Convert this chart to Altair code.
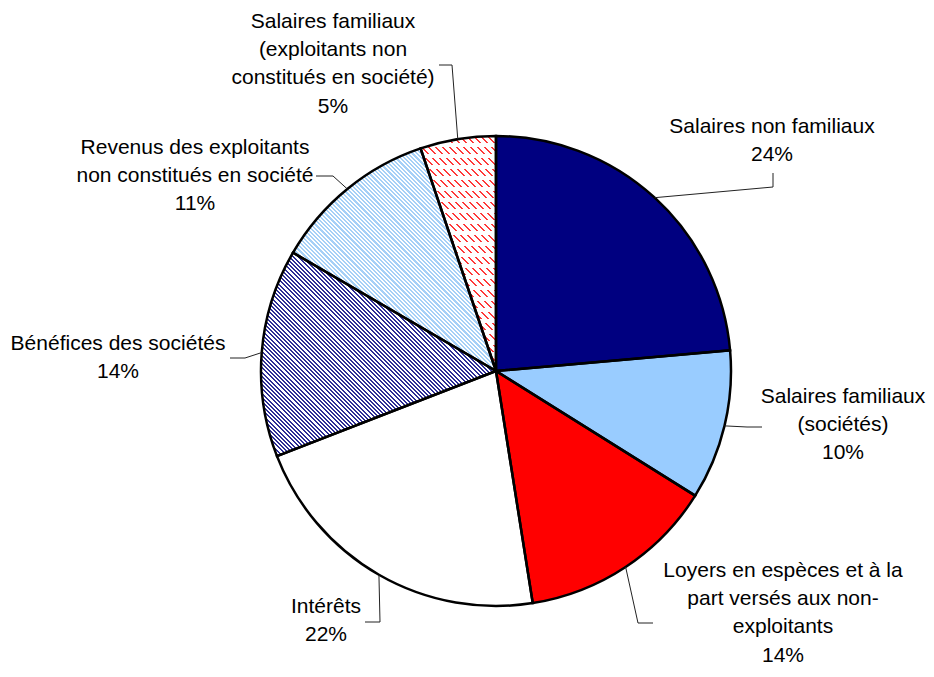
import math
import altair as alt
import pandas as pd

# ---------------- data ----------------
categories = [
    "Salaires non familiaux",
    "Salaires familiaux (sociétés)",
    "Loyers en espèces et à la part versés aux non-exploitants",
    "Intérêts",
    "Bénéfices des sociétés",
    "Revenus des exploitants non constitués en société",
    "Salaires familiaux (exploitants non constitués en société)",
]
values = [23.6, 10.3, 13.6, 21.6, 14.3, 11.4, 5.2]
label_lines = [
    ["Salaires non familiaux"],
    ["Salaires familiaux", "(sociétés)"],
    ["Loyers en espèces et à la", "part versés aux non-", "exploitants"],
    ["Intérêts"],
    ["Bénéfices des sociétés"],
    ["Revenus des exploitants", "non constitués en société"],
    ["Salaires familiaux", "(exploitants non", "constitués en société)"],
]

# ---------------- layout ----------------
W, H = 918, 661
CX, CY, R = 488, 363, 235
# centre of the first text line of each label (plot coordinates)
label_pos = [(764, 119), (835, 389), (775, 563), (318, 599), (110, 336), (187, 140), (325, 14)]
leader_tail = [
    [(765, 179), (765, 165)],
    [(739, 419), (754, 419)],
    [(630, 615), (645, 615)],
    [(372, 614), (357, 614)],
    [(237, 350), (222, 350)],
    [(325, 168), (308, 168)],
    [(444, 57), (431, 57)],
]
FONT = "Liberation Sans"

# ---------------- derived ----------------
total = sum(values)
starts, ends = [], []
acc = 0.0
for v in values:
    starts.append(acc)
    acc += v
    ends.append(acc)

arc_df = pd.DataFrame({"idx": list(range(len(values))), "cat": categories,
                       "value": values, "start": starts, "end": ends})


def ang(p):
    return p / total * 2 * math.pi


def slice_bbox(a0, a1):
    pts = [(0.0, 0.0), (R * math.sin(a0), -R * math.cos(a0)), (R * math.sin(a1), -R * math.cos(a1))]
    for k in range(0, 5):
        a = k * math.pi / 2
        if a0 < a < a1:
            pts.append((R * math.sin(a), -R * math.cos(a)))
    xs = [p[0] for p in pts]
    ys = [p[1] for p in pts]
    return max(xs) - min(xs), max(ys) - min(ys)


def _stops(n, c1, c2, duty):
    stops = []
    i = 0
    while i < n:
        t0 = i / n
        t1 = min((i + duty) / n, 1.0)
        t2 = min((i + 1) / n, 1.0)
        stops += [alt.GradientStop(offset=t0, color=c1), alt.GradientStop(offset=t1, color=c1),
                  alt.GradientStop(offset=t1, color=c2), alt.GradientStop(offset=t2, color=c2)]
        i += 1
    return stops


def stripes(w, h, period, c1, c2, duty):
    n = (w + h) / period
    s = (w + h) / (w * w + h * h)
    return alt.LinearGradient(gradient="linear", stops=_stops(n, c1, c2, duty),
                              x1=0, y1=1, x2=s * w, y2=1 - s * h)


def bands(h, period, c1, c2, duty):
    return alt.LinearGradient(gradient="linear", stops=_stops(h / period, c1, c2, duty),
                              x1=0, y1=0, x2=0, y2=1)


bb = [slice_bbox(ang(a), ang(b)) for a, b in zip(starts, ends)]

fills = [
    "#000080",
    "#99CCFF",
    "#FF0000",
    "#FFFFFF",
    stripes(bb[4][0], bb[4][1], 4.2, "#2e2e96", "#FFFFFF", 0.5),
    stripes(bb[5][0], bb[5][1], 4.2, "#a6d0f7", "#FFFFFF", 0.5),
    stripes(bb[6][0], bb[6][1], 7.0, "#FF3a3a", "#FFFFFF", 0.32),
]

theta_scale = alt.Scale(domain=[0, total], range=[0, 2 * math.pi])
base_arc = alt.Chart(arc_df)


def arc_enc(ch):
    return ch.encode(
        theta=alt.Theta("start:Q", scale=theta_scale),
        theta2="end:Q",
        x=alt.value(CX),
        y=alt.value(CY),
    )


layers = []
for i, f in enumerate(fills):
    layers.append(arc_enc(base_arc.transform_filter(alt.datum.idx == i).mark_arc(
        outerRadius=R, fill=f, strokeWidth=0)))

# horizontal white gaps over the red dashed pattern
layers.append(arc_enc(base_arc.transform_filter(alt.datum.idx == 6).mark_arc(
    outerRadius=R, fill=bands(bb[6][1], 11.0, "transparent", "#FFFFFF", 0.62), strokeWidth=0)))

# outlines
layers.append(arc_enc(base_arc.mark_arc(outerRadius=R, fillOpacity=0, stroke="black", strokeWidth=2.5)))

# leader lines
lrows = []
for i, (a, b) in enumerate(zip(starts, ends)):
    m = ang((a + b) / 2)
    pts = [(CX + R * math.sin(m), CY - R * math.cos(m))] + leader_tail[i]
    for j, (px, py) in enumerate(pts):
        lrows.append({"lid": i, "o": j, "px": px, "py": py})
leader_df = pd.DataFrame(lrows)
layers.append(alt.Chart(leader_df).mark_line(color="#222222", strokeWidth=1).encode(
    x=alt.X("px:Q", scale=None, axis=None),
    y=alt.Y("py:Q", scale=None, axis=None),
    detail="lid:N",
    order="o:Q",
))

# labels
trows = []
for i, v in enumerate(values):
    txt = "\n".join(label_lines[i] + [f"{round(v)}%"])
    trows.append({"label": txt, "px": label_pos[i][0], "py": label_pos[i][1]})
label_df = pd.DataFrame(trows)
layers.append(alt.Chart(label_df).mark_text(
    font=FONT, fontSize=21, lineHeight=28.2, align="center", baseline="middle",
    lineBreak="\n", color="black").encode(
    x=alt.X("px:Q", scale=None, axis=None),
    y=alt.Y("py:Q", scale=None, axis=None),
    text="label:N",
))

chart = alt.layer(*layers).properties(
    width=W, height=H, autosize=alt.AutoSizeParams(type="none"), padding=0
).configure_view(stroke=None)

chart.save("out.html", embed_options={"renderer": "svg", "actions": False})
